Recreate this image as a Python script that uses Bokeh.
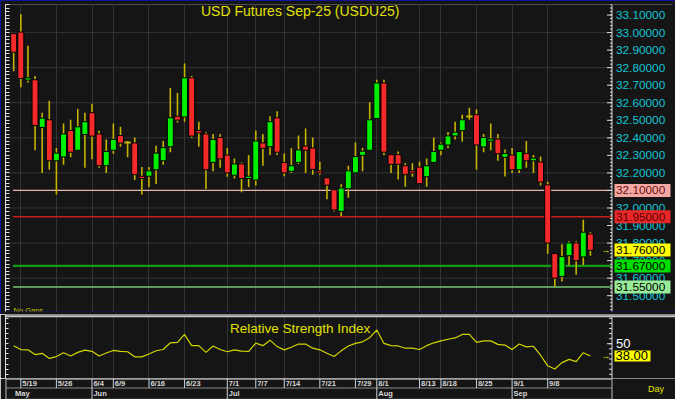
from bokeh.plotting import figure
from bokeh.models import Range1d, FixedTicker, LinearAxis
from bokeh.layouts import column
from bokeh.embed import file_html
from bokeh.resources import INLINE
from bokeh.core.properties import value

# ---------------- data ----------------
opens = [32.994, 33.003, 32.729, 32.731, 32.459, 32.503, 32.269, 32.291, 32.442, 32.329,
         32.419, 32.543, 32.422, 32.241, 32.329, 32.413, 32.373, 32.371, 32.181, 32.181,
         32.218, 32.269, 32.349, 32.523, 32.519, 32.742, 32.442, 32.422, 32.260, 32.402,
         32.302, 32.187, 32.251, 32.168, 32.159, 32.371, 32.349, 32.514, 32.260, 32.209,
         32.260, 32.353, 32.342, 32.212, 32.172, 32.104, 31.981, 32.110, 32.200, 32.300,
         32.329, 32.510, 32.713, 32.304, 32.304, 32.241, 32.212, 32.233, 32.178, 32.260,
         32.329, 32.359, 32.411, 32.441, 32.521, 32.532, 32.348, 32.381, 32.393, 32.289,
         32.302, 32.218, 32.311, 32.269, 32.262, 32.132, 31.741, 31.610, 31.728, 31.801,
         31.721, 31.852]
highs = [32.994, 33.104, 32.925, 32.753, 32.543, 32.612, 32.342, 32.482, 32.503, 32.565,
         32.543, 32.594, 32.441, 32.391, 32.482, 32.463, 32.382, 32.402, 32.233, 32.233,
         32.355, 32.382, 32.684, 32.655, 32.824, 32.753, 32.492, 32.432, 32.422, 32.422,
         32.342, 32.282, 32.260, 32.302, 32.442, 32.422, 32.523, 32.552, 32.311, 32.340,
         32.413, 32.453, 32.402, 32.263, 32.172, 32.104, 32.136, 32.241, 32.373, 32.342,
         32.603, 32.731, 32.731, 32.304, 32.322, 32.255, 32.255, 32.263, 32.282, 32.402,
         32.373, 32.433, 32.492, 32.532, 32.572, 32.561, 32.422, 32.482, 32.422, 32.333,
         32.342, 32.322, 32.382, 32.302, 32.293, 32.150, 31.741, 31.794, 31.811, 31.811,
         31.933, 31.862]
lows = [32.780, 32.689, 32.716, 32.329, 32.200, 32.218, 32.077, 32.247, 32.289, 32.329,
        32.229, 32.278, 32.229, 32.200, 32.309, 32.349, 32.289, 32.159, 32.077, 32.119,
        32.137, 32.247, 32.318, 32.488, 32.492, 32.401, 32.349, 32.108, 32.209, 32.229,
        32.178, 32.168, 32.090, 32.119, 32.128, 32.241, 32.302, 32.302, 32.181, 32.200,
        32.251, 32.200, 32.190, 32.190, 32.050, 31.981, 31.955, 32.059, 32.200, 32.209,
        32.329, 32.510, 32.300, 32.200, 32.163, 32.121, 32.178, 32.139, 32.121, 32.260,
        32.300, 32.342, 32.391, 32.378, 32.503, 32.218, 32.318, 32.329, 32.269, 32.179,
        32.200, 32.200, 32.229, 32.200, 32.128, 31.739, 31.553, 31.581, 31.672, 31.619,
        31.675, 31.728]
closes = [32.888, 32.738, 32.742, 32.470, 32.512, 32.269, 32.313, 32.422, 32.318, 32.463,
          32.492, 32.410, 32.241, 32.322, 32.391, 32.370, 32.373, 32.190, 32.168, 32.212,
          32.313, 32.344, 32.514, 32.501, 32.742, 32.410, 32.428, 32.218, 32.391, 32.280,
          32.200, 32.251, 32.168, 32.181, 32.382, 32.340, 32.492, 32.318, 32.200, 32.241,
          32.331, 32.329, 32.220, 32.200, 32.130, 31.989, 32.114, 32.212, 32.293, 32.324,
          32.503, 32.713, 32.318, 32.249, 32.249, 32.190, 32.200, 32.139, 32.241, 32.322,
          32.364, 32.411, 32.432, 32.503, 32.521, 32.359, 32.402, 32.393, 32.309, 32.311,
          32.218, 32.322, 32.269, 32.284, 32.148, 31.800, 31.600, 31.723, 31.801, 31.699,
          31.862, 31.759]
rsi = [48.1, 44.3, 44.0, 39.3, 40.6, 35.6, 37.4, 41.2, 38.0, 41.5,
       43.7, 42.5, 38.0, 40.9, 43.4, 42.5, 42.1, 37.1, 37.1, 39.9,
       43.1, 44.3, 50.9, 51.3, 59.1, 48.1, 48.1, 41.5, 47.8, 44.3,
       42.1, 44.0, 42.8, 42.5, 50.6, 48.1, 53.5, 47.2, 44.0, 46.5,
       49.7, 49.7, 45.6, 44.0, 40.6, 37.4, 43.0, 47.8, 50.3, 51.9,
       55.9, 63.5, 50.3, 48.1, 47.8, 45.6, 45.6, 44.3, 48.1, 50.9,
       52.8, 54.4, 55.7, 59.1, 59.1, 51.3, 52.8, 52.8, 49.4, 48.7,
       44.3, 49.7, 46.9, 47.5, 38.7, 28.3, 25.2, 31.4, 34.6, 32.4,
       41.2, 38.0]

date_idx = [1, 6, 11, 14, 19, 24, 30, 34, 38, 43, 48, 51, 57, 60, 65, 70, 75]
date_labels = ["5/19", "5/26", "6/4", "6/9", "6/16", "6/23", "7/1", "7/7", "7/14",
               "7/21", "7/29", "8/1", "8/13", "8/18", "8/25", "9/1", "9/8"]
month_idx = [0, 11, 30, 51, 70]
month_labels = ["May", "Jun", "Jul", "Aug", "Sep"]

price_ticks = [31.5, 31.6, 31.7, 31.8, 31.9, 32.0, 32.1, 32.2, 32.3, 32.4, 32.5,
               32.6, 32.7, 32.8, 32.9, 33.0, 33.1]
price_grid = [31.6, 31.8, 32.0, 32.2, 32.4, 32.6, 32.8, 33.0]

levels = [32.10, 31.95, 31.67, 31.55]
level_line_colors = ["#e6b4b0", "#c81e1e", "#159a15", "#78c478"]
level_widths = [1.3, 1.6, 2.2, 1.6]
level_box_colors = ["#f4a8a4", "#e82828", "#00e000", "#98ec98"]
level_text_colors = ["#6a1010", "#5a0000", "#000000", "#000000"]
last_price = 31.76
rsi_last = 38.00
rsi_ticks = [50]
title_text = "USD Futures Sep-25 (USDU25)"
rsi_title = "Relative Strength Index"

# ---------------- style / geometry ----------------
BG = "#151515"
GRID = "#343434"
GREEN = "#00ee00"
RED = "#f42a2a"
WICK = "#c4b400"
YEL = "#e2e200"
AXC = "#e0e0e0"
FONT = "Liberation Sans"
W = 675
LEFT = 5
FWID = W - LEFT              # frame width in px (frame spans to the right edge)
X0, X1 = -1.15, 92.95        # index range covered by the frame
AX = 84.03                   # position of the price axis line (index units)
XU = (X1 - X0) / FWID        # index units per pixel

n = len(closes)
idx = list(range(n))
x_range = Range1d(X0, X1)

body_x, body_top, body_bot, body_col, doji_x, doji_y = [], [], [], [], [], []
for i in idx:
    o, c = opens[i], closes[i]
    if abs(c - o) < 0.002:
        doji_x.append(i); doji_y.append(c)
    else:
        body_x.append(i)
        body_top.append(max(o, c))
        body_bot.append(min(o, c))
        body_col.append(GREEN if c > o else RED)


def base_fig(h, yr, top, bottom):
    f = figure(width=W, height=h, x_range=x_range, y_range=yr,
               x_axis_location=None, y_axis_location=None, toolbar_location=None,
               output_backend="svg", background_fill_color=BG, border_fill_color=BG,
               min_border_left=LEFT, min_border_right=0, min_border_top=top,
               min_border_bottom=bottom, outline_line_color=None)
    f.ygrid.grid_line_color = None
    f.xgrid.grid_line_color = None
    return f


def left_ticks(f, minor, length):
    ax = LinearAxis(ticker=FixedTicker(ticks=[], minor_ticks=minor),
                    minor_tick_in=length, minor_tick_out=0, major_tick_in=0,
                    major_tick_out=0, axis_line_color=AXC,
                    minor_tick_line_color=AXC, major_label_standoff=0)
    f.add_layout(ax, "left")


# ---------------- main price panel ----------------
MH, MTOP, MBOT = 314, 4, 3
Y0, Y1 = 31.41, 33.16
YU = (Y1 - Y0) / (MH - MTOP - MBOT)
p = base_fig(MH, Range1d(Y0, Y1), MTOP, MBOT)
p.styles = {"outline": "3px solid #1414c8", "outline-offset": "-3px"}

minor_price = [round(31.40 + 0.02 * k, 2) for k in range(90)]
left_ticks(p, minor_price, 4)

# grid
p.xgrid.grid_line_color = GRID
p.xgrid.ticker = FixedTicker(ticks=date_idx)
p.segment(x0=[X0] * len(price_grid), y0=price_grid, x1=[AX] * len(price_grid),
          y1=price_grid, line_color=GRID, line_width=1)

# support / resistance lines
for lv, lc, lw in zip(levels, level_line_colors, level_widths):
    p.segment(x0=[idx[0] - 0.1], y0=[lv], x1=[AX], y1=[lv], line_color=lc, line_width=lw)

# candles
p.segment(x0=idx, y0=lows, x1=idx, y1=highs, line_color=WICK, line_width=1.6)
p.vbar(x=body_x, width=0.84, top=body_top, bottom=body_bot, fill_color=body_col,
       line_color="#000000", line_width=1)
p.segment(x0=[v - 0.45 for v in doji_x], y0=doji_y, x1=[v + 0.45 for v in doji_x],
          y1=doji_y, line_color=WICK, line_width=2)

# right price axis (drawn inside the frame's right strip)
p.segment(x0=[AX], y0=[Y0], x1=[AX], y1=[Y1], line_color=AXC, line_width=1)
p.segment(x0=[AX - 5 * XU] * len(price_ticks), y0=price_ticks,
          x1=[AX] * len(price_ticks), y1=price_ticks, line_color=AXC, line_width=1)
p.segment(x0=[AX - 2 * XU] * len(minor_price), y0=minor_price,
          x1=[AX] * len(minor_price), y1=minor_price, line_color=AXC, line_width=1)
p.text(x=[AX + 4 * XU] * len(price_ticks), y=price_ticks,
       text=[f"{t:.5f}" for t in price_ticks], text_font=value(FONT),
       text_font_size="11.8px", text_color="#12c4d4", text_align="left",
       text_baseline="middle")

box_vals = levels + [last_price]
box_cols = level_box_colors + ["#ffff00"]
box_txt = level_text_colors + ["#000000"]
p.quad(left=[AX + 2.5 * XU] * len(box_vals), right=[AX + 58.5 * XU] * len(box_vals),
       bottom=[v - 6.5 * YU for v in box_vals], top=[v + 6.5 * YU for v in box_vals],
       fill_color=box_cols, line_color=None)
p.text(x=[AX + 4 * XU] * len(box_vals), y=box_vals,
       text=[f"{v:.5f}" for v in box_vals], text_font=value(FONT),
       text_font_size="11.8px", text_color=box_txt, text_align="left",
       text_baseline="middle")
p.text(x=[AX - 6 * XU], y=[last_price], text=["→"], text_font=value(FONT),
       text_font_size="9px", text_color=YEL, text_align="center",
       text_baseline="middle")

p.text(x=[(X0 + AX) / 2 - 1.2], y=[Y1 - 6.3 * YU], text=[title_text],
       text_font=value(FONT), text_font_size="14px", text_color=YEL,
       text_align="center", text_baseline="middle")
p.text(x=[X0 + 8 * XU], y=[Y0 + 1.5 * YU], text=["No Gaps"], text_font=value(FONT),
       text_font_size="7.5px", text_color="#c8c800", text_align="left",
       text_baseline="alphabetic")

# ---------------- RSI panel ----------------
RH = 64
R0, R1 = 15.85, 78.7
RU = (R1 - R0) / RH
q = base_fig(RH, Range1d(R0, R1), 0, 0)
minor_rsi = [5 * k for k in range(21)]
left_ticks(q, minor_rsi, 3)
q.xgrid.grid_line_color = GRID
q.xgrid.ticker = FixedTicker(ticks=date_idx)

q.segment(x0=[X0], y0=[R1 - 1.7 * RU], x1=[X1], y1=[R1 - 1.7 * RU],
          line_color="#c8c8c8", line_width=2)
q.line(idx, rsi, line_color="#d4d400", line_width=1.2)

q.segment(x0=[AX], y0=[R0], x1=[AX], y1=[R1 - 3 * RU], line_color=AXC, line_width=1)
q.segment(x0=[AX - 3 * XU] * len(minor_rsi), y0=minor_rsi, x1=[AX] * len(minor_rsi),
          y1=minor_rsi, line_color=AXC, line_width=1)
q.segment(x0=[AX - 5 * XU] * len(rsi_ticks), y0=rsi_ticks, x1=[AX] * len(rsi_ticks),
          y1=rsi_ticks, line_color=AXC, line_width=1)
q.text(x=[AX + 4 * XU] * len(rsi_ticks), y=rsi_ticks,
       text=[str(t) for t in rsi_ticks], text_font=value(FONT),
       text_font_size="13px", text_color="#ffffff", text_align="left",
       text_baseline="middle")
q.quad(left=[AX + 2.5 * XU], right=[AX + 38.5 * XU], bottom=[rsi_last - 5.5 * RU],
       top=[rsi_last + 5.5 * RU], fill_color="#ffff00", line_color=None)
q.text(x=[AX + 3.5 * XU], y=[rsi_last], text=[f"{rsi_last:.2f}"],
       text_font=value(FONT), text_font_size="13px", text_color="#000000",
       text_align="left", text_baseline="middle")
q.text(x=[AX - 6 * XU], y=[rsi_last], text=["→"], text_font=value(FONT),
       text_font_size="9px", text_color=YEL, text_align="center",
       text_baseline="middle")
q.text(x=[(X0 + AX) / 2 - 1.2], y=[R1 - 13.5 * RU], text=[rsi_title],
       text_font=value(FONT), text_font_size="13.5px", text_color=YEL,
       text_align="center", text_baseline="middle")

# ---------------- date strip ----------------
d = base_fig(21, Range1d(0, 21), 0, 0)
d.segment(x0=[X0], y0=[20.5], x1=[AX], y1=[20.5], line_color="#e8e8e8", line_width=1)
d.segment(x0=[X0], y0=[11.5], x1=[AX], y1=[11.5], line_color="#8a8a8a", line_width=1)
d.segment(x0=[X0], y0=[0.5], x1=[AX], y1=[0.5], line_color="#4a4a4a", line_width=1)
d.segment(x0=[X0 + 0.5 * XU], y0=[0], x1=[X0 + 0.5 * XU], y1=[21],
          line_color="#bcbcbc", line_width=1)
d.segment(x0=[AX], y0=[0], x1=[AX], y1=[21], line_color="#bcbcbc", line_width=1)
d.segment(x0=date_idx, y0=[11.5] * len(date_idx), x1=date_idx, y1=[21] * len(date_idx),
          line_color="#d0d0d0", line_width=1)
d.segment(x0=month_idx[1:], y0=[0] * (len(month_idx) - 1), x1=month_idx[1:],
          y1=[11.5] * (len(month_idx) - 1), line_color="#d0d0d0", line_width=1)
d.text(x=[v + 0.2 for v in date_idx], y=[16.2] * len(date_idx), text=date_labels,
       text_font=value(FONT), text_font_size="7.5px", text_font_style="bold",
       text_color="#d8d8d8", text_align="left", text_baseline="middle")
d.text(x=[v + 0.2 for v in month_idx], y=[6.3] * len(month_idx), text=month_labels,
       text_font=value(FONT), text_font_size="7.5px", text_font_style="bold",
       text_color="#d8d8d8", text_align="left", text_baseline="middle")
d.text(x=[AX + 36 * XU], y=[10.5], text=["Day"], text_font=value(FONT),
       text_font_size="9px", text_color=YEL, text_align="left",
       text_baseline="middle")

layout = column(p, q, d, spacing=0)
open("out.html", "w").write(file_html(layout, INLINE))
